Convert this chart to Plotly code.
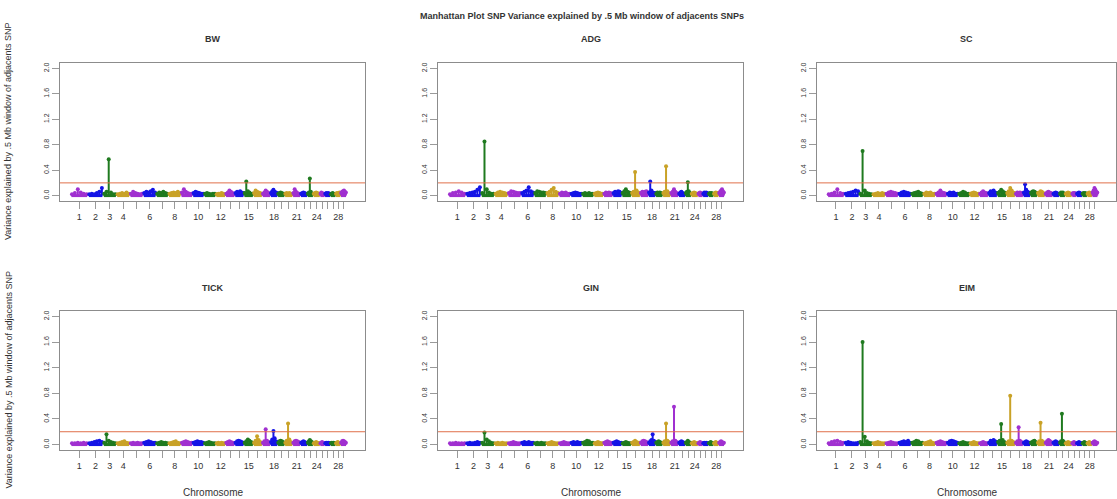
import plotly.graph_objects as go

# ---------------- data ----------------
chromosomes = list(range(1, 30))
chrom_length_mb = [158.5, 136.2, 121.0, 120.0, 120.1, 117.8, 110.7, 113.3, 105.5, 103.3,
                   106.9, 87.2, 83.5, 82.4, 85.0, 81.0, 73.2, 65.8, 63.4, 72.0,
                   71.6, 61.4, 52.5, 62.3, 42.4, 52.0, 45.6, 45.9, 51.1]
shown_tick_labels = [1, 2, 3, 4, 6, 8, 10, 12, 15, 18, 21, 24, 28]
panel_titles = ["BW", "ADG", "SC", "TICK", "GIN", "EIM"]
y_tick_values = [0.0, 0.4, 0.8, 1.2, 1.6, 2.0]
y_tick_labels = ["0.0", "0.4", "0.8", "1.2", "1.6", "2.0"]
threshold = 0.2
main_title = "Manhattan Plot SNP Variance explained by .5 Mb window of adjacents SNPs"
y_title = "Variance explained by .5 Mb window of adjacents SNP"
x_title = "Chromosome"

BW = [
    [0.02, 0.04, 0.10, 0.05, 0.03, 0.02], [0.02, 0.03, 0.02, 0.04, 0.06, 0.12],
    [0.03, 0.06, 0.57, 0.05, 0.02, 0.02], [0.02, 0.03, 0.04, 0.03, 0.05, 0.03],
    [0.03, 0.06, 0.04, 0.03, 0.02, 0.03], [0.04, 0.06, 0.05, 0.07, 0.09, 0.05],
    [0.03, 0.05, 0.04, 0.06, 0.04, 0.03], [0.03, 0.04, 0.05, 0.04, 0.06, 0.04],
    [0.05, 0.10, 0.06, 0.04, 0.03, 0.03], [0.04, 0.06, 0.05, 0.04, 0.03, 0.03],
    [0.03, 0.04, 0.03, 0.02, 0.03, 0.03], [0.02, 0.03, 0.03, 0.04, 0.03, 0.02],
    [0.03, 0.05, 0.08, 0.06, 0.04, 0.03], [0.04, 0.06, 0.05, 0.07, 0.05, 0.04],
    [0.04, 0.22, 0.07, 0.05, 0.03, 0.03], [0.04, 0.08, 0.06, 0.05, 0.04, 0.03],
    [0.03, 0.05, 0.08, 0.06, 0.04, 0.03], [0.04, 0.07, 0.09, 0.06, 0.05, 0.04],
    [0.03, 0.04, 0.05, 0.04, 0.03, 0.03], [0.03, 0.04, 0.03, 0.04, 0.03, 0.02],
    [0.04, 0.10, 0.06, 0.04, 0.03, 0.03], [0.03, 0.04, 0.05, 0.04, 0.03, 0.03],
    [0.03, 0.05, 0.27, 0.06, 0.03, 0.03], [0.03, 0.04, 0.05, 0.04, 0.03, 0.03],
    [0.03, 0.05, 0.04, 0.03, 0.03, 0.02], [0.03, 0.04, 0.03, 0.04, 0.03, 0.03],
    [0.02, 0.03, 0.04, 0.03, 0.02, 0.02], [0.03, 0.04, 0.03, 0.04, 0.05, 0.03],
    [0.04, 0.06, 0.07, 0.08, 0.06, 0.05],
]
ADG = [
    [0.02, 0.04, 0.05, 0.07, 0.05, 0.03], [0.03, 0.04, 0.05, 0.06, 0.09, 0.13],
    [0.04, 0.85, 0.10, 0.05, 0.03, 0.03], [0.03, 0.05, 0.06, 0.05, 0.04, 0.03],
    [0.04, 0.07, 0.06, 0.05, 0.04, 0.04], [0.04, 0.06, 0.08, 0.13, 0.07, 0.05],
    [0.04, 0.07, 0.06, 0.05, 0.05, 0.04], [0.04, 0.06, 0.09, 0.12, 0.06, 0.04],
    [0.03, 0.05, 0.04, 0.05, 0.03, 0.03], [0.03, 0.04, 0.05, 0.04, 0.03, 0.03],
    [0.03, 0.04, 0.03, 0.04, 0.03, 0.03], [0.03, 0.04, 0.05, 0.04, 0.03, 0.03],
    [0.03, 0.05, 0.04, 0.05, 0.04, 0.03], [0.04, 0.06, 0.05, 0.07, 0.06, 0.04],
    [0.04, 0.07, 0.10, 0.06, 0.05, 0.04], [0.04, 0.06, 0.37, 0.08, 0.05, 0.04],
    [0.04, 0.06, 0.05, 0.06, 0.07, 0.05], [0.05, 0.22, 0.08, 0.05, 0.04, 0.04],
    [0.03, 0.05, 0.04, 0.05, 0.04, 0.03], [0.04, 0.06, 0.46, 0.07, 0.04, 0.03],
    [0.04, 0.06, 0.10, 0.06, 0.04, 0.03], [0.03, 0.05, 0.06, 0.04, 0.03, 0.03],
    [0.04, 0.06, 0.21, 0.07, 0.04, 0.03], [0.03, 0.04, 0.05, 0.04, 0.03, 0.03],
    [0.03, 0.04, 0.05, 0.04, 0.03, 0.03], [0.03, 0.05, 0.04, 0.05, 0.04, 0.03],
    [0.03, 0.04, 0.03, 0.04, 0.03, 0.03], [0.03, 0.04, 0.05, 0.04, 0.04, 0.03],
    [0.04, 0.06, 0.08, 0.10, 0.07, 0.05],
]
SC = [
    [0.02, 0.03, 0.05, 0.10, 0.04, 0.03], [0.03, 0.04, 0.05, 0.06, 0.08, 0.07],
    [0.03, 0.70, 0.08, 0.04, 0.03, 0.02], [0.02, 0.03, 0.04, 0.03, 0.04, 0.03],
    [0.03, 0.05, 0.06, 0.05, 0.04, 0.03], [0.03, 0.05, 0.06, 0.05, 0.04, 0.03],
    [0.03, 0.04, 0.05, 0.06, 0.04, 0.03], [0.03, 0.05, 0.04, 0.05, 0.03, 0.03],
    [0.03, 0.05, 0.08, 0.05, 0.04, 0.03], [0.03, 0.05, 0.04, 0.05, 0.03, 0.03],
    [0.03, 0.04, 0.06, 0.05, 0.03, 0.03], [0.03, 0.04, 0.05, 0.04, 0.03, 0.03],
    [0.03, 0.05, 0.07, 0.05, 0.04, 0.03], [0.04, 0.07, 0.06, 0.08, 0.05, 0.04],
    [0.04, 0.06, 0.09, 0.07, 0.05, 0.04], [0.04, 0.07, 0.12, 0.08, 0.05, 0.04],
    [0.03, 0.05, 0.04, 0.05, 0.04, 0.03], [0.05, 0.18, 0.09, 0.06, 0.05, 0.04],
    [0.04, 0.06, 0.07, 0.06, 0.05, 0.04], [0.04, 0.05, 0.07, 0.06, 0.04, 0.03],
    [0.03, 0.05, 0.06, 0.05, 0.04, 0.03], [0.03, 0.04, 0.05, 0.04, 0.03, 0.03],
    [0.03, 0.05, 0.04, 0.05, 0.03, 0.03], [0.03, 0.04, 0.05, 0.04, 0.03, 0.03],
    [0.03, 0.04, 0.03, 0.04, 0.03, 0.03], [0.03, 0.04, 0.05, 0.04, 0.03, 0.03],
    [0.03, 0.04, 0.03, 0.04, 0.03, 0.03], [0.03, 0.04, 0.05, 0.04, 0.03, 0.03],
    [0.05, 0.08, 0.12, 0.09, 0.06, 0.05],
]
TICK = [
    [0.02, 0.02, 0.03, 0.02, 0.03, 0.02], [0.02, 0.03, 0.04, 0.05, 0.06, 0.04],
    [0.03, 0.16, 0.06, 0.04, 0.03, 0.02], [0.02, 0.03, 0.04, 0.05, 0.03, 0.02],
    [0.02, 0.03, 0.02, 0.03, 0.02, 0.02], [0.03, 0.04, 0.05, 0.04, 0.03, 0.03],
    [0.02, 0.03, 0.04, 0.03, 0.03, 0.02], [0.02, 0.03, 0.04, 0.05, 0.03, 0.02],
    [0.03, 0.04, 0.05, 0.04, 0.03, 0.03], [0.03, 0.04, 0.05, 0.04, 0.04, 0.03],
    [0.02, 0.03, 0.04, 0.03, 0.02, 0.02], [0.02, 0.03, 0.02, 0.03, 0.02, 0.02],
    [0.03, 0.04, 0.05, 0.04, 0.03, 0.03], [0.03, 0.05, 0.06, 0.05, 0.04, 0.03],
    [0.03, 0.05, 0.08, 0.06, 0.04, 0.03], [0.03, 0.06, 0.13, 0.07, 0.04, 0.03],
    [0.03, 0.05, 0.24, 0.06, 0.04, 0.03], [0.04, 0.08, 0.21, 0.10, 0.05, 0.04],
    [0.03, 0.05, 0.06, 0.05, 0.04, 0.03], [0.03, 0.06, 0.33, 0.08, 0.04, 0.03],
    [0.03, 0.05, 0.06, 0.05, 0.04, 0.03], [0.03, 0.04, 0.05, 0.04, 0.03, 0.03],
    [0.03, 0.05, 0.07, 0.05, 0.04, 0.03], [0.02, 0.03, 0.04, 0.03, 0.02, 0.02],
    [0.02, 0.03, 0.04, 0.03, 0.02, 0.02], [0.02, 0.03, 0.02, 0.03, 0.02, 0.02],
    [0.02, 0.03, 0.02, 0.03, 0.02, 0.02], [0.02, 0.03, 0.04, 0.03, 0.02, 0.02],
    [0.03, 0.05, 0.06, 0.05, 0.04, 0.03],
]
GIN = [
    [0.02, 0.02, 0.03, 0.02, 0.02, 0.02], [0.02, 0.03, 0.02, 0.03, 0.04, 0.03],
    [0.03, 0.19, 0.08, 0.05, 0.03, 0.02], [0.02, 0.03, 0.02, 0.03, 0.02, 0.02],
    [0.02, 0.03, 0.04, 0.03, 0.02, 0.02], [0.03, 0.04, 0.03, 0.04, 0.03, 0.03],
    [0.02, 0.03, 0.02, 0.03, 0.02, 0.02], [0.02, 0.03, 0.04, 0.03, 0.02, 0.02],
    [0.02, 0.03, 0.04, 0.03, 0.02, 0.02], [0.03, 0.04, 0.03, 0.04, 0.03, 0.03],
    [0.03, 0.04, 0.06, 0.05, 0.03, 0.03], [0.02, 0.03, 0.04, 0.03, 0.02, 0.02],
    [0.03, 0.04, 0.05, 0.04, 0.03, 0.03], [0.03, 0.04, 0.05, 0.04, 0.03, 0.03],
    [0.02, 0.03, 0.04, 0.03, 0.02, 0.02], [0.03, 0.04, 0.06, 0.04, 0.03, 0.03],
    [0.03, 0.05, 0.06, 0.05, 0.04, 0.03], [0.03, 0.05, 0.07, 0.16, 0.06, 0.04],
    [0.03, 0.04, 0.05, 0.04, 0.03, 0.03], [0.03, 0.05, 0.33, 0.06, 0.04, 0.03],
    [0.03, 0.05, 0.59, 0.06, 0.04, 0.03], [0.03, 0.04, 0.05, 0.04, 0.03, 0.03],
    [0.03, 0.04, 0.06, 0.04, 0.03, 0.03], [0.02, 0.03, 0.04, 0.03, 0.02, 0.02],
    [0.02, 0.03, 0.04, 0.03, 0.02, 0.02], [0.02, 0.03, 0.02, 0.03, 0.02, 0.02],
    [0.02, 0.03, 0.04, 0.03, 0.02, 0.02], [0.02, 0.03, 0.04, 0.03, 0.02, 0.02],
    [0.03, 0.04, 0.05, 0.04, 0.03, 0.03],
]
EIM = [
    [0.02, 0.04, 0.05, 0.06, 0.04, 0.03], [0.03, 0.04, 0.03, 0.02, 0.02, 0.03],
    [0.04, 1.60, 0.12, 0.05, 0.03, 0.02], [0.02, 0.03, 0.04, 0.03, 0.02, 0.02],
    [0.02, 0.03, 0.04, 0.03, 0.02, 0.02], [0.03, 0.04, 0.05, 0.04, 0.06, 0.03],
    [0.03, 0.04, 0.06, 0.05, 0.03, 0.03], [0.02, 0.03, 0.04, 0.05, 0.03, 0.02],
    [0.03, 0.04, 0.05, 0.04, 0.03, 0.03], [0.03, 0.05, 0.06, 0.05, 0.04, 0.03],
    [0.02, 0.03, 0.04, 0.03, 0.02, 0.02], [0.02, 0.03, 0.04, 0.03, 0.02, 0.02],
    [0.02, 0.03, 0.04, 0.03, 0.02, 0.02], [0.03, 0.06, 0.05, 0.07, 0.05, 0.04],
    [0.04, 0.06, 0.32, 0.07, 0.04, 0.03], [0.03, 0.05, 0.76, 0.06, 0.04, 0.03],
    [0.03, 0.05, 0.27, 0.06, 0.04, 0.03], [0.03, 0.04, 0.05, 0.04, 0.03, 0.03],
    [0.03, 0.04, 0.05, 0.06, 0.04, 0.03], [0.03, 0.05, 0.34, 0.06, 0.04, 0.03],
    [0.03, 0.05, 0.07, 0.06, 0.04, 0.03], [0.03, 0.04, 0.05, 0.04, 0.03, 0.03],
    [0.03, 0.05, 0.48, 0.06, 0.04, 0.03], [0.02, 0.03, 0.04, 0.03, 0.02, 0.02],
    [0.02, 0.03, 0.04, 0.03, 0.02, 0.02], [0.02, 0.03, 0.04, 0.03, 0.02, 0.02],
    [0.02, 0.03, 0.04, 0.03, 0.02, 0.02], [0.02, 0.03, 0.04, 0.03, 0.02, 0.02],
    [0.03, 0.04, 0.05, 0.04, 0.03, 0.03],
]
panel_data = [BW, ADG, SC, TICK, GIN, EIM]

# ---------------- styling / layout ----------------
chrom_colors = ["#a030d0", "#1414e6", "#1f7a1f", "#c9a227"]
W, H = 1117, 499
col_px = [(60, 365), (438, 743), (817, 1116)]
row_px = [(63, 201), (311, 450)]
x_range = [-95, 2660]
y_range = [-0.085, 2.085]
FONT = "Liberation Sans, Arial, sans-serif"
TXT = "#333333"

starts = []
acc = 0.0
for L in chrom_length_mb:
    starts.append(acc)
    acc += L
centers = [s + L / 2 for s, L in zip(starts, chrom_length_mb)]
ticktext = [str(c) if c in shown_tick_labels else "" for c in chromosomes]

fig = go.Figure()
layout_axes = {}
annotations = []
shapes = []

for p, (title, data) in enumerate(zip(panel_titles, panel_data)):
    r, c = divmod(p, 3)
    idx = p + 1
    xa = "x" if idx == 1 else f"x{idx}"
    ya = "y" if idx == 1 else f"y{idx}"
    x0p, x1p = col_px[c]
    y0p, y1p = row_px[r]
    xd = [x0p / W, x1p / W]
    yd = [1 - y1p / H, 1 - y0p / H]

    for ci, vals in enumerate(data):
        col = chrom_colors[ci % 4]
        n = len(vals)
        xs = [starts[ci] + (k + 0.5) / n * chrom_length_mb[ci] for k in range(n)]
        # vertical stems (type = "h")
        sx, sy = [], []
        for xv, yv in zip(xs, vals):
            sx += [xv, xv, None]
            sy += [0, yv, None]
        fig.add_trace(go.Scatter(x=sx, y=sy, mode="lines", xaxis=xa, yaxis=ya,
                                 line=dict(color=col, width=2), showlegend=False,
                                 hoverinfo="skip"))
        # baseline band of points
        fig.add_trace(go.Scatter(x=[starts[ci] + 0.05 * chrom_length_mb[ci],
                                    starts[ci] + 0.95 * chrom_length_mb[ci]],
                                 y=[0, 0], mode="lines", xaxis=xa, yaxis=ya,
                                 line=dict(color=col, width=3), showlegend=False,
                                 hoverinfo="skip"))
        # SNP points
        fig.add_trace(go.Scatter(x=xs, y=vals, mode="markers", xaxis=xa, yaxis=ya,
                                 marker=dict(color=col, size=4), showlegend=False))

    layout_axes["xaxis" if idx == 1 else f"xaxis{idx}"] = dict(
        domain=xd, range=x_range, anchor=ya, showgrid=False, zeroline=False,
        showline=True, mirror=True, linecolor="#8c8c8c", linewidth=1,
        ticks="outside", ticklen=7, tickcolor="#9a9a9a", tickwidth=1,
        tickvals=centers, ticktext=ticktext, tickangle=0,
        tickfont=dict(family=FONT, size=9, color=TXT), fixedrange=True)
    layout_axes["yaxis" if idx == 1 else f"yaxis{idx}"] = dict(
        domain=yd, range=y_range, anchor=xa, showgrid=False, zeroline=False,
        showline=True, mirror=True, linecolor="#8c8c8c", linewidth=1,
        ticks="outside", ticklen=7, tickcolor="#9a9a9a", tickwidth=1,
        tickvals=y_tick_values, ticktext=y_tick_labels, tickangle=-90,
        tickfont=dict(family=FONT, size=7, color=TXT), fixedrange=True)

    shapes.append(dict(type="line", xref=f"{xa} domain", yref=ya, x0=0, x1=1,
                       y0=threshold, y1=threshold,
                       line=dict(color="#e0704a", width=1)))

    annotations.append(dict(text=f"<b>{title}</b>", x=(x0p + x1p) / 2 / W,
                            y=1 - (39 if r == 0 else 288) / H, xref="paper", yref="paper",
                            showarrow=False, xanchor="center", yanchor="middle",
                            font=dict(family=FONT, size=9, color=TXT)))
    if r == 1:
        annotations.append(dict(text=x_title, x=(x0p + x1p) / 2 / W, y=1 - 492 / H,
                                xref="paper", yref="paper", showarrow=False,
                                xanchor="center", yanchor="middle",
                                font=dict(family=FONT, size=10, color=TXT)))

for r in range(2):
    y0p, y1p = row_px[r]
    annotations.append(dict(text=y_title, x=8 / W, y=1 - (y0p + y1p) / 2 / H,
                            xref="paper", yref="paper", showarrow=False, textangle=-90,
                            xanchor="center", yanchor="middle",
                            font=dict(family=FONT, size=9, color=TXT)))

annotations.append(dict(text=f"<b>{main_title}</b>", x=582 / W, y=1 - 16 / H,
                        xref="paper", yref="paper", showarrow=False,
                        xanchor="center", yanchor="middle",
                        font=dict(family=FONT, size=9, color=TXT)))

fig.update_layout(width=W, height=H, margin=dict(l=0, r=0, t=0, b=0),
                  paper_bgcolor="white", plot_bgcolor="white",
                  annotations=annotations, shapes=shapes, **layout_axes)

fig.write_html("out.html", config={"displayModeBar": False})
